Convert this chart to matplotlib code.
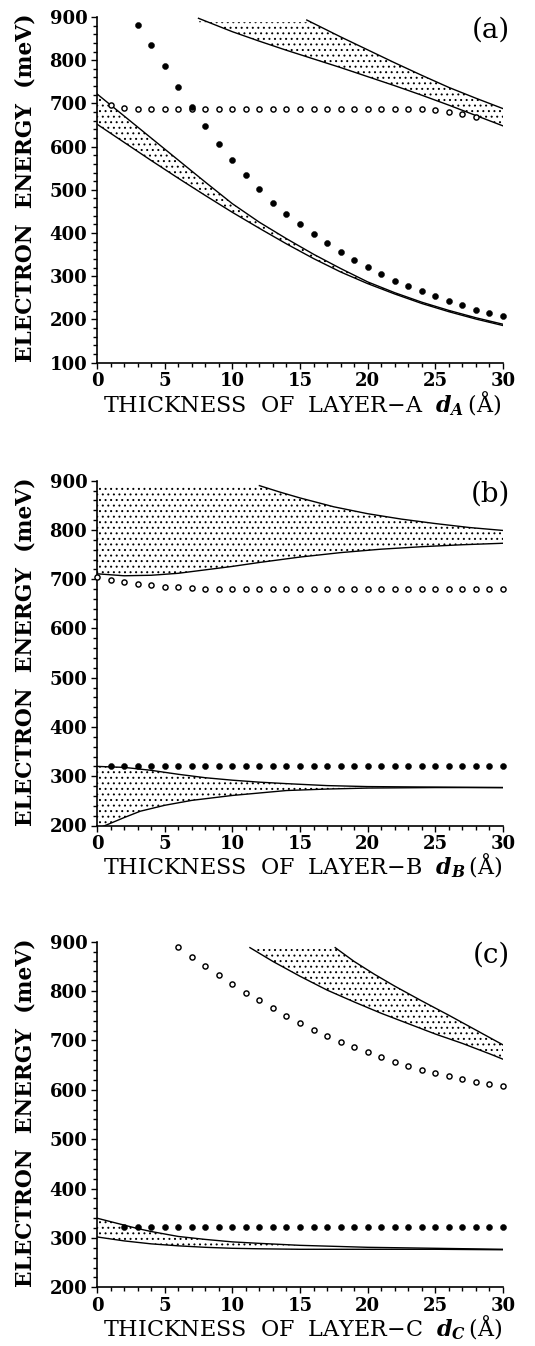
import numpy as np
import matplotlib
matplotlib.use("Agg")
import matplotlib.pyplot as plt
from matplotlib.ticker import MultipleLocator

# ---------------- data ----------------
# Panel (a)
a_dot_x = [3, 4, 5, 6, 7, 8, 9, 10, 11, 12, 13, 14, 15, 16, 17, 18, 19, 20,
           21, 22, 23, 24, 25, 26, 27, 28, 29, 30]
a_dot_y = [881, 836, 787, 739, 692, 647, 607, 569, 534, 502, 469, 444, 420, 397,
           376, 356, 338, 322, 305, 290, 277, 265, 255, 243, 233, 223, 214, 207]
a_circ_x = [1, 2, 3, 4, 5, 6, 7, 8, 9, 10, 11, 12, 13, 14, 15, 16, 17, 18, 19,
            20, 21, 22, 23, 24, 25, 26, 27, 28]
a_circ_y = [697, 689, 687, 687, 687, 687, 687, 687, 687, 687, 687, 687, 687, 687,
            687, 687, 687, 687, 687, 687, 687, 687, 687, 686, 684, 680, 675, 669]
a_low_x = [0, 2, 4, 6, 8, 10, 12, 14, 16, 18, 20, 22, 24, 26, 28, 30]
a_low_upper = [722, 671, 620, 569, 518, 468, 425, 387, 351, 318, 287, 262, 240, 221, 204, 189]
a_low_lower = [652, 610, 568, 527, 487, 448, 411, 375, 341, 310, 283, 259, 237, 218, 201, 186]
a_up_lower_x = [7.5, 10, 12, 14, 16, 18, 20, 22, 24, 26, 28, 30]
a_up_lower_y = [897, 866, 844, 823, 803, 783, 762, 741, 719, 696, 672, 648]
a_up_upper_x = [15.5, 18, 20, 22, 24, 26, 28, 30]
a_up_upper_y = [893, 854, 824, 794, 765, 737, 712, 688]
a_fill_top = 888

# Panel (b)
b_dot_x = [1, 2, 3, 4, 5, 6, 7, 8, 9, 10, 11, 12, 13, 14, 15, 16, 17, 18, 19, 20,
           21, 22, 23, 24, 25, 26, 27, 28, 29, 30]
b_dot_y = [320, 320, 320, 320, 320, 320, 320, 320, 320, 320, 320, 320, 320, 320, 320,
           320, 320, 320, 320, 320, 320, 320, 320, 320, 320, 320, 320, 320, 320, 320]
b_circ_x = [0, 1, 2, 3, 4, 5, 6, 7, 8, 9, 10, 11, 12, 13, 14, 15, 16, 17, 18, 19, 20,
            21, 22, 23, 24, 25, 26, 27, 28, 29, 30]
b_circ_y = [705, 699, 694, 690, 688, 685, 684, 682, 680, 680, 680, 680, 680, 680, 680,
            680, 680, 680, 680, 680, 680, 680, 680, 680, 680, 680, 680, 680, 680, 680, 680]
b_up_lower_x = [0, 2, 4, 6, 8, 10, 12, 15, 18, 21, 24, 27, 30]
b_up_lower_y = [711, 707, 708, 712, 719, 726, 734, 745, 754, 761, 766, 770, 773]
b_up_upper_x = [12, 13.5, 15, 17.5, 20, 22.5, 25, 27.5, 30]
b_up_upper_y = [890, 877, 865, 847, 833, 822, 813, 805, 799]
b_fill_top = 888
b_low_upper_x = [0, 2, 4, 6, 8, 10, 12, 14, 17, 20, 25, 30]
b_low_upper_y = [320, 318, 312, 304, 297, 292, 288, 285, 281, 279, 278, 277]
b_low_lower_x = [0, 2, 3.2, 5, 7, 10, 12, 14, 17, 20, 25, 30]
b_low_lower_y = [193, 216, 229, 241, 251, 261, 266, 271, 274, 276, 277, 277]

# Panel (c)
c_dot_x = [2, 3, 4, 5, 6, 7, 8, 9, 10, 11, 12, 13, 14, 15, 16, 17, 18, 19, 20,
           21, 22, 23, 24, 25, 26, 27, 28, 29, 30]
c_dot_y = [322, 322, 322, 322, 322, 322, 322, 322, 322, 322, 322, 322, 322, 322, 322,
           322, 322, 322, 322, 322, 322, 322, 322, 322, 322, 322, 322, 322, 322]
c_circ_x = [6, 7, 8, 9, 10, 11, 12, 13, 14, 15, 16, 17, 18, 19, 20, 21, 22, 23, 24,
            25, 26, 27, 28, 29, 30]
c_circ_y = [890, 870, 851, 832, 814, 797, 781, 765, 750, 735, 722, 709, 697, 686, 676,
            666, 657, 649, 641, 634, 627, 621, 616, 611, 607]
c_up_lower_x = [11.3, 13, 15, 17, 19, 21, 23, 25, 27, 29, 30]
c_up_lower_y = [888, 860, 830, 802, 778, 755, 734, 713, 694, 673, 662]
c_up_upper_x = [17.6, 19, 20.5, 22, 24, 26, 28, 30]
c_up_upper_y = [888, 860, 834, 810, 780, 751, 721, 691]
c_fill_top = 886
c_low_x = [0, 1, 2, 3, 4, 5, 6, 8, 10, 12, 15, 20, 25, 30]
c_low_upper = [340, 333, 326, 319, 313, 308, 303, 297, 292, 289, 285, 281, 279, 277]
c_low_lower = [302, 298, 294, 291, 288, 286, 284, 281, 279, 278, 277, 277, 277, 276]

x_labels = ["THICKNESS  OF  LAYER\u2212A  $d_A\\,$(\u00c5)",
            "THICKNESS  OF  LAYER\u2212B  $d_B\\,$(\u00c5)",
            "THICKNESS  OF  LAYER\u2212C  $d_C\\,$(\u00c5)"]
y_label = "ELECTRON  ENERGY  (meV)"
panel_tags = ["(a)", "(b)", "(c)"]
y_ranges = [(100, 900), (200, 900), (200, 900)]

# ---------------- style ----------------
plt.rcParams["font.family"] = ["DejaVu Serif"]
plt.rcParams["mathtext.fontset"] = "dejavuserif"
plt.rcParams["font.weight"] = "bold"
plt.rcParams["hatch.linewidth"] = 0.7

fig = plt.figure(figsize=(5.35, 13.46), dpi=100)
FW, FH = 535.0, 1346.0
left_px, right_px = 97.0, 503.0
axes_px = [(17.0, 362.7), (480.7, 825.5), (941.7, 1287.3)]

LW = 1.0
HATCH = dict(facecolor="none", edgecolor="black", hatch="...", linewidth=0)


def make_axes(top, bottom):
    ax = fig.add_axes([left_px / FW, 1 - bottom / FH,
                       (right_px - left_px) / FW, (bottom - top) / FH])
    return ax


def style_axes(ax, i):
    ax.set_xlim(0, 30)
    ax.set_ylim(*y_ranges[i])
    for s in ("top", "right"):
        ax.spines[s].set_visible(False)
    for s in ("left", "bottom"):
        ax.spines[s].set_linewidth(1.2)
    ax.xaxis.set_major_locator(MultipleLocator(5))
    ax.xaxis.set_minor_locator(MultipleLocator(1))
    ax.yaxis.set_major_locator(MultipleLocator(100))
    ax.yaxis.set_minor_locator(MultipleLocator(20))
    ax.tick_params(which="both", direction="out", width=1.0, colors="black")
    ax.tick_params(which="major", length=4.5, labelsize=13, pad=2.5)
    ax.tick_params(which="minor", length=3)
    ax.set_xlabel(x_labels[i], fontsize=16, fontweight="normal")
    ax.xaxis.label.set_va("center")
    ax.xaxis.set_label_coords(0.506, -0.118)
    ax.set_ylabel(y_label, fontsize=15.7, fontweight="bold")
    ax.yaxis.label.set_va("center")
    ax.yaxis.set_label_coords(-0.175, 0.505)
    ax.text(1.018, 0.962, panel_tags[i], transform=ax.transAxes, ha="right",
            va="center", fontsize=20, fontweight="normal")


def band_polygon(lo_x, lo_y, hi_x, hi_y, top=None):
    xs = list(lo_x) + list(hi_x[::-1])
    ys = list(lo_y) + list(hi_y[::-1])
    if top is not None:
        xs = xs + [hi_x[0], lo_x[0]]
        ys = ys + [top, top]
    return xs, ys


def dots(ax, x, y):
    ax.plot(x, y, ls="none", marker="o", ms=4.4, mfc="black", mec="black",
            mew=0.3, zorder=5, clip_on=False)


def circles(ax, x, y):
    ax.plot(x, y, ls="none", marker="o", ms=3.7, mfc="white", mec="black",
            mew=1.05, zorder=5, clip_on=False)


# ---------------- panel (a) ----------------
ax = make_axes(*axes_px[0])
xs, ys = band_polygon(a_low_x, a_low_lower, a_low_x, a_low_upper)
ax.fill(xs, ys, **HATCH)
ax.plot(a_low_x, a_low_upper, color="black", lw=LW)
ax.plot(a_low_x, a_low_lower, color="black", lw=LW)
xs, ys = band_polygon(a_up_lower_x, a_up_lower_y, a_up_upper_x, a_up_upper_y, a_fill_top)
ax.fill(xs, ys, **HATCH)
ax.plot(a_up_lower_x, a_up_lower_y, color="black", lw=LW)
ax.plot(a_up_upper_x, a_up_upper_y, color="black", lw=LW)
circles(ax, a_circ_x, a_circ_y)
dots(ax, a_dot_x, a_dot_y)
style_axes(ax, 0)

# ---------------- panel (b) ----------------
ax = make_axes(*axes_px[1])
xs, ys = band_polygon(b_up_lower_x, b_up_lower_y, b_up_upper_x, b_up_upper_y, b_fill_top)
ax.fill(xs, ys, **HATCH)
ax.plot(b_up_lower_x, b_up_lower_y, color="black", lw=LW)
ax.plot(b_up_upper_x, b_up_upper_y, color="black", lw=LW)
xs, ys = band_polygon(b_low_lower_x, b_low_lower_y, b_low_upper_x, b_low_upper_y)
ax.fill(xs, ys, **HATCH)
ax.plot(b_low_upper_x, b_low_upper_y, color="black", lw=LW)
ax.plot(b_low_lower_x, b_low_lower_y, color="black", lw=LW)
circles(ax, b_circ_x, b_circ_y)
dots(ax, b_dot_x, b_dot_y)
style_axes(ax, 1)

# ---------------- panel (c) ----------------
ax = make_axes(*axes_px[2])
xs, ys = band_polygon(c_up_lower_x, c_up_lower_y, c_up_upper_x, c_up_upper_y, c_fill_top)
ax.fill(xs, ys, **HATCH)
ax.plot(c_up_lower_x, c_up_lower_y, color="black", lw=LW)
ax.plot(c_up_upper_x, c_up_upper_y, color="black", lw=LW)
xs, ys = band_polygon(c_low_x, c_low_lower, c_low_x, c_low_upper)
ax.fill(xs, ys, **HATCH)
ax.plot(c_low_x, c_low_upper, color="black", lw=LW)
ax.plot(c_low_x, c_low_lower, color="black", lw=LW)
circles(ax, c_circ_x, c_circ_y)
dots(ax, c_dot_x, c_dot_y)
style_axes(ax, 2)

fig.savefig("out.png", dpi=100, facecolor="white")
